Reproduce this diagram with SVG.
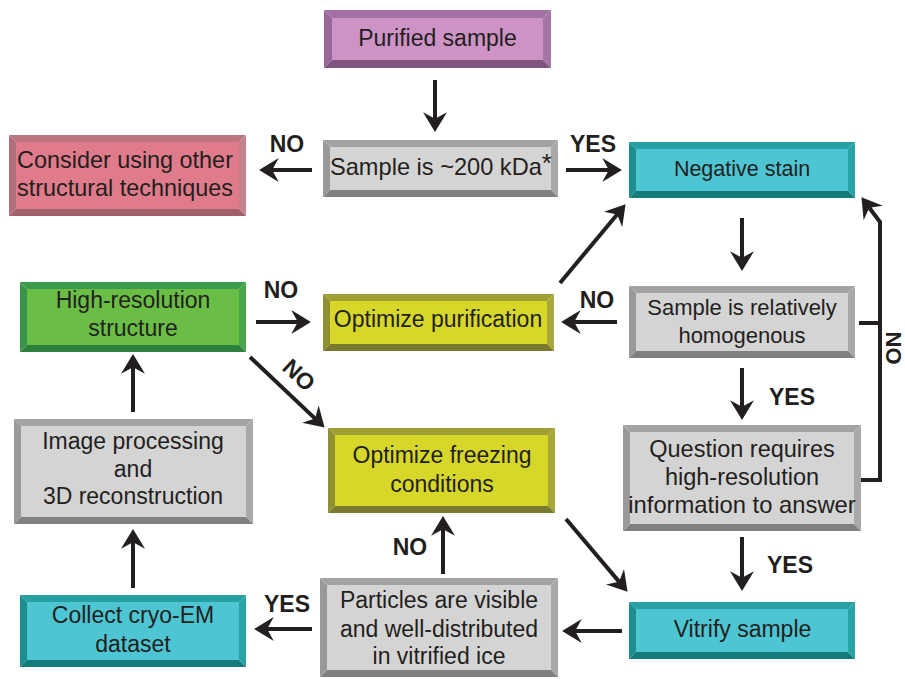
<svg xmlns="http://www.w3.org/2000/svg" width="905" height="679" viewBox="0 0 905 679">
<style>
text{font-family:"Liberation Sans",Arial,Helvetica,sans-serif;fill:#231f20}
.n text{font-size:23px;text-anchor:middle}
.lbl{font-size:23px;font-weight:bold;text-anchor:middle}
.con path{fill:none;stroke:#231f20;stroke-width:4}
.pu .t{fill:#a371a3}.pu .l{fill:#9a6699}.pu .r{fill:#a475a5}.pu .b{fill:#7e537e}.pu .i{fill:#ce93c5}
.rd .t{fill:#bb7680}.rd .l{fill:#b06f79}.rd .r{fill:#c4838c}.rd .b{fill:#9f6068}.rd .i{fill:#e07b8b}
.gy .t{fill:#a3a3a3}.gy .l{fill:#999999}.gy .r{fill:#a9a9a9}.gy .b{fill:#808080}.gy .i{fill:#d4d4d4}
.tl .t{fill:#26a0a2}.tl .l{fill:#1d8e90}.tl .r{fill:#28a4a6}.tl .b{fill:#147a7c}.tl .i{fill:#4dc5d2}
.yl .t{fill:#a0a032}.yl .l{fill:#8f8f30}.yl .r{fill:#a7a73a}.yl .b{fill:#7a7a2e}.yl .i{fill:#d7d72a}
.gr .t{fill:#3c9b48}.gr .l{fill:#38954a}.gr .r{fill:#48a54c}.gr .b{fill:#2d7f3c}.gr .i{fill:#6abe45}
</style>
<defs>
<marker id="ah" markerUnits="userSpaceOnUse" markerWidth="20" markerHeight="24" viewBox="0 0 18 22" refX="8" refY="11" orient="auto">
<path d="M0,0 L18,11 L0,22 L6,11 Z" fill="#231f20"/>
</marker>
</defs>

<g id="purified" class="n pu">
<polygon class="t" points="324,10 551,10 543,18 332,18"/>
<polygon class="l" points="324,10 332,18 332,60 324,68"/>
<polygon class="r" points="551,10 551,68 543,60 543,18"/>
<polygon class="b" points="324,68 551,68 543,60 332,60"/>
<rect class="i" x="332" y="18" width="211" height="42"/>
<text x="437.5" y="46">Purified sample</text>
</g>

<g id="consider" class="n rd">
<polygon class="t" points="9,135 246,135 239,142 16,142"/>
<polygon class="l" points="9,135 16,142 16,209 9,216"/>
<polygon class="r" points="246,135 246,216 239,209 239,142"/>
<polygon class="b" points="9,216 246,216 239,209 16,209"/>
<rect class="i" x="16" y="142" width="223" height="67"/>
<text x="125" y="168" style="font-size:23.4px">Consider using other</text>
<text x="125" y="196" style="font-size:23.4px">structural techniques</text>
</g>

<g id="sample200" class="n gy">
<polygon class="t" points="323,140 558,140 551,147 330,147"/>
<polygon class="l" points="323,140 330,147 330,190 323,197"/>
<polygon class="r" points="558,140 558,197 551,190 551,147"/>
<polygon class="b" points="323,197 558,197 551,190 330,190"/>
<rect class="i" x="330" y="147" width="221" height="43"/>
<text x="330" y="175" style="text-anchor:start;font-size:23.6px">Sample is ~200 kDa<tspan dy="-3" style="font-size:26px">*</tspan></text>
</g>

<g id="negstain" class="n tl">
<polygon class="t" points="629,142 855,142 848,149 636,149"/>
<polygon class="l" points="629,142 636,149 636,191 629,198"/>
<polygon class="r" points="855,142 855,198 848,191 848,149"/>
<polygon class="b" points="629,198 855,198 848,191 636,191"/>
<rect class="i" x="636" y="149" width="212" height="42"/>
<text x="742" y="176" style="font-size:21.5px">Negative stain</text>
</g>

<g id="highres" class="n gr">
<polygon class="t" points="20,282 246,282 239,289 27,289"/>
<polygon class="l" points="20,282 27,289 27,345 20,352"/>
<polygon class="r" points="246,282 246,352 239,345 239,289"/>
<polygon class="b" points="20,352 246,352 239,345 27,345"/>
<rect class="i" x="27" y="289" width="212" height="56"/>
<text x="133" y="308">High-resolution</text>
<text x="133" y="336">structure</text>
</g>

<g id="optpurif" class="n yl">
<polygon class="t" points="323,294 554,294 547,301 330,301"/>
<polygon class="l" points="323,294 330,301 330,344 323,351"/>
<polygon class="r" points="554,294 554,351 547,344 547,301"/>
<polygon class="b" points="323,351 554,351 547,344 330,344"/>
<rect class="i" x="330" y="301" width="217" height="43"/>
<text x="438" y="327">Optimize purification</text>
</g>

<g id="homog" class="n gy">
<polygon class="t" points="629,286 855,286 848,293 636,293"/>
<polygon class="l" points="629,286 636,293 636,351 629,358"/>
<polygon class="r" points="855,286 855,358 848,351 848,293"/>
<polygon class="b" points="629,358 855,358 848,351 636,351"/>
<rect class="i" x="636" y="293" width="212" height="58"/>
<text x="742" y="315" style="font-size:22px">Sample is relatively</text>
<text x="742" y="343" style="font-size:22px">homogenous</text>
</g>

<g id="imgproc" class="n gy">
<polygon class="t" points="14,419 253,419 246,426 21,426"/>
<polygon class="l" points="14,419 21,426 21,517 14,524"/>
<polygon class="r" points="253,419 253,524 246,517 246,426"/>
<polygon class="b" points="14,524 253,524 246,517 21,517"/>
<rect class="i" x="21" y="426" width="225" height="91"/>
<text x="133" y="449">Image processing</text>
<text x="133" y="477">and</text>
<text x="133" y="504">3D reconstruction</text>
</g>

<g id="optfreeze" class="n yl">
<polygon class="t" points="328,428 555,428 548,435 335,435"/>
<polygon class="l" points="328,428 335,435 335,506 328,513"/>
<polygon class="r" points="555,428 555,513 548,506 548,435"/>
<polygon class="b" points="328,513 555,513 548,506 335,506"/>
<rect class="i" x="335" y="435" width="213" height="71"/>
<text x="442" y="463">Optimize freezing</text>
<text x="442" y="492">conditions</text>
</g>

<g id="question" class="n gy">
<polygon class="t" points="623,425 861,425 854,432 630,432"/>
<polygon class="l" points="623,425 630,432 630,524 623,531"/>
<polygon class="r" points="861,425 861,531 854,524 854,432"/>
<polygon class="b" points="623,531 861,531 854,524 630,524"/>
<rect class="i" x="630" y="432" width="224" height="92"/>
<text x="742" y="457" style="font-size:23.5px">Question requires</text>
<text x="742" y="485" style="font-size:23.5px">high-resolution</text>
<text x="742" y="513" style="font-size:23.8px">information to answer</text>
</g>

<g id="collect" class="n tl">
<polygon class="t" points="20,595 246,595 239,602 27,602"/>
<polygon class="l" points="20,595 27,602 27,660 20,667"/>
<polygon class="r" points="246,595 246,667 239,660 239,602"/>
<polygon class="b" points="20,667 246,667 239,660 27,660"/>
<rect class="i" x="27" y="602" width="212" height="58"/>
<text x="133" y="623">Collect cryo-EM</text>
<text x="133" y="652">dataset</text>
</g>

<g id="particles" class="n gy">
<polygon class="t" points="320,578 558,578 551,585 327,585"/>
<polygon class="l" points="320,578 327,585 327,670 320,677"/>
<polygon class="r" points="558,578 558,677 551,670 551,585"/>
<polygon class="b" points="320,677 558,677 551,670 327,670"/>
<rect class="i" x="327" y="585" width="224" height="85"/>
<text x="439" y="608">Particles are visible</text>
<text x="439" y="637">and well-distributed</text>
<text x="439" y="664">in vitrified ice</text>
</g>

<g id="vitrify" class="n tl">
<polygon class="t" points="629,602 855,602 848,609 636,609"/>
<polygon class="l" points="629,602 636,609 636,652 629,659"/>
<polygon class="r" points="855,602 855,659 848,652 848,609"/>
<polygon class="b" points="629,659 855,659 848,652 636,652"/>
<rect class="i" x="636" y="609" width="212" height="43"/>
<text x="742.5" y="637">Vitrify sample</text>
</g>

<g id="connectors" class="con">
<path d="M435,80 V121" marker-end="url(#ah)"/>
<path d="M312,170 H270" marker-end="url(#ah)"/>
<path d="M566,170 H611" marker-end="url(#ah)"/>
<path d="M742,218 V260" marker-end="url(#ah)"/>
<path d="M617,322 H572" marker-end="url(#ah)"/>
<path d="M560,283 L618.6,212.7" marker-end="url(#ah)"/>
<path d="M742,368 V409" marker-end="url(#ah)"/>
<path d="M859,323 H880"/>
<path d="M861,480 H880 V222 L868,206" marker-end="url(#ah)"/>
<path d="M742,537 V580" marker-end="url(#ah)"/>
<path d="M622,631 H573" marker-end="url(#ah)"/>
<path d="M443,574 V527" marker-end="url(#ah)"/>
<path d="M566,519 L620.5,583.4" marker-end="url(#ah)"/>
<path d="M312,629 H265" marker-end="url(#ah)"/>
<path d="M133,588 V540" marker-end="url(#ah)"/>
<path d="M133,412 V365" marker-end="url(#ah)"/>
<path d="M256,322 H300" marker-end="url(#ah)"/>
<path d="M250,357 L316.7,420.1" marker-end="url(#ah)"/>
</g>

<g id="labels">
<text class="lbl" x="287" y="152">NO</text>
<text class="lbl" x="593" y="152">YES</text>
<text class="lbl" x="281" y="298">NO</text>
<text class="lbl" x="597" y="308">NO</text>
<text class="lbl" x="792" y="405">YES</text>
<text class="lbl" x="790" y="573">YES</text>
<text class="lbl" x="410" y="555">NO</text>
<text class="lbl" x="287" y="612">YES</text>
<text class="lbl" transform="translate(299,375) rotate(43)" x="0" y="8">NO</text>
<text class="lbl" transform="translate(894,348) rotate(90)" x="0" y="8" style="font-size:22px">NO</text>
</g>
</svg>
